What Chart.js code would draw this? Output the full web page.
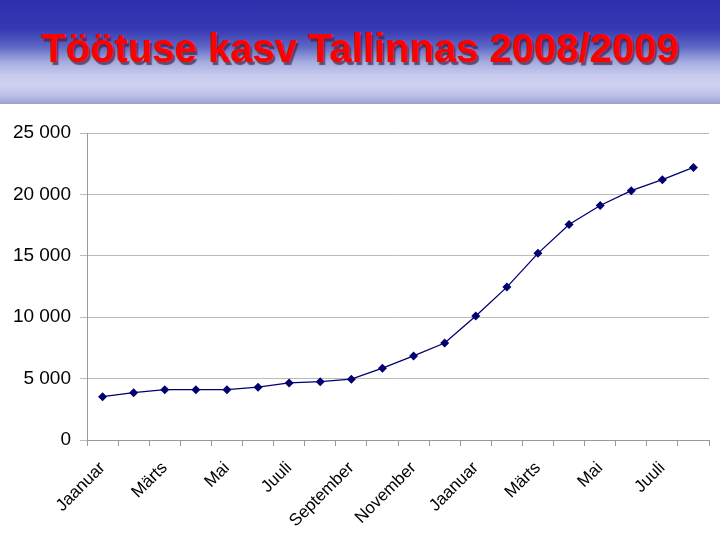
<!DOCTYPE html>
<html>
<head>
<meta charset="utf-8">
<script src="https://cdn.jsdelivr.net/npm/chart.js@4/dist/chart.umd.min.js"></script>
<style>
  body { margin: 0; width: 720px; height: 540px; background: #fff; overflow: hidden; }
  #banner {
    position: absolute; left: 0; top: 0; width: 720px; height: 104px;
    background: linear-gradient(to bottom, #2e2eac 0%, #3538b2 28%, #5e68c4 45%, #a6aee0 60%, #c6caee 72%, #cfd2f0 82%, #bcc0e6 92%, #9da0d2 100%);
  }
  #banner h1 {
    margin: 0; position: absolute; left: 0; top: 28px; width: 720px; text-align: center;
    font-family: "Liberation Sans", Arial, sans-serif; font-weight: bold; font-size: 40px; line-height: 40px;
    color: #ff0000; text-shadow: 2px 3px 1px rgba(70, 30, 60, 0.7);
  }
  #wrap { position: absolute; left: 0; top: 105px; width: 720px; height: 435px; }
</style>
</head>
<body>
<div id="banner"><h1>Töötuse kasv Tallinnas 2008/2009</h1></div>
<div id="wrap"><canvas id="Chart"></canvas></div>
<script>
// kuud jaanuar 2008 - august 2009
var months = ["Jaanuar", "Veebruar", "Märts", "Aprill", "Mai", "Juuni", "Juuli", "August",
    "September", "Oktoober", "November", "Detsember",
    "Jaanuar", "Veebruar", "Märts", "Aprill", "Mai", "Juuni", "Juuli", "August"];
var unemployed = [3530, 3850, 4100, 4100, 4100, 4300, 4650, 4750, 4950, 5850,
    6850, 7900, 10100, 12450, 15200, 17550, 19100, 20300, 21200, 22200];
var yTicks = [0, 5000, 10000, 15000, 20000, 25000];

function fmt(v) {
    return v.toString().replace(/\B(?=(\d{3})+(?!\d))/g, " ");
}

new Chart("Chart", {
    type: "line",
    data: {
        labels: months,
        datasets: [{
            data: unemployed,
            borderColor: "#000070",
            backgroundColor: "#000070",
            borderWidth: 1.3,
            pointStyle: "rectRot",
            pointRadius: 4.5,
            pointBorderWidth: 0,
            tension: 0,
            fill: false
        }]
    },
    options: {
        responsive: true,
        maintainAspectRatio: false,
        animation: false,
        layout: { padding: { top: 28, right: 4, left: 0, bottom: 0 } },
        plugins: { legend: { display: false }, tooltip: { enabled: false } },
        scales: {
            x: {
                offset: true,
                grid: { offset: true, drawOnChartArea: false, drawTicks: true, tickLength: 6, color: "#999" },
                border: { color: "#999" },
                afterFit: function (s) { s.height = 100; },
                ticks: {
                    autoSkip: false,
                    minRotation: 45,
                    maxRotation: 45,
                    padding: 12,
                    color: "#000",
                    font: { family: "'Liberation Sans', Arial, sans-serif", size: 17 },
                    callback: function (val, i) { return i % 2 === 0 ? months[i] : ""; }
                }
            },
            y: {
                min: 0,
                max: 25000,
                afterBuildTicks: function (s) { s.ticks = yTicks.map(function (v) { return { value: v }; }); },
                afterFit: function (s) { s.width = 87; },
                grid: { color: "#bbb", tickLength: 7, drawTicks: true },
                border: { color: "#999" },
                ticks: {
                    padding: 9,
                    color: "#000",
                    font: { family: "'Liberation Sans', Arial, sans-serif", size: 19 },
                    callback: function (v) { return fmt(v); }
                }
            }
        }
    }
});
</script>
</body>
</html>
